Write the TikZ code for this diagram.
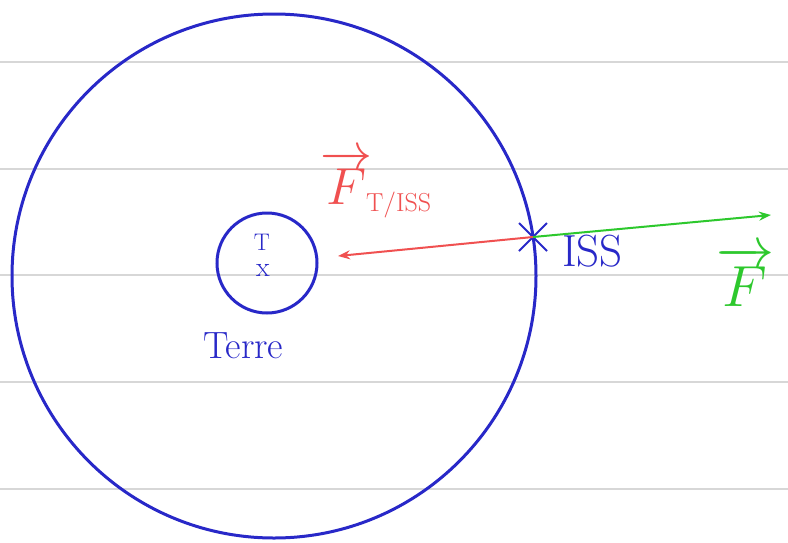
\RequirePackage{fix-cm}
\documentclass[tikz,border=0pt]{standalone}
\usetikzlibrary{arrows.meta}
\definecolor{inkblue}{RGB}{40,40,200}
\definecolor{inkred}{RGB}{240,80,80}
\definecolor{inkgreen}{RGB}{45,200,45}
\definecolor{rulegray}{RGB}{215,215,215}
\tikzset{
  ruleline/.style={rulegray, line width=2.5pt},
  orbit/.style={circle, draw=inkblue, line width=3pt, inner sep=0pt},
  bluetext/.style={text=inkblue, inner sep=0pt},
  forcered/.style={draw=inkred, line width=2pt, -{Stealth[length=12pt,width=9pt]}},
  forcegreen/.style={draw=inkgreen, line width=2pt, -{Stealth[length=12pt,width=9pt]}},
}
\begin{document}
\begin{tikzpicture}[x=1pt,y=-1pt]
\useasboundingbox (0,0) rectangle (788,542);
\fill[white] (0,0) rectangle (788,542);
\foreach \yy in {62,169,275,382,489} \draw[ruleline] (0,\yy) -- (788,\yy);
% circles
\node[orbit, minimum size=524pt] (orbitc) at (274,276) {};
\node[orbit, minimum size=100pt] (terre) at (267,263) {};
\node[bluetext, font=\fontsize{24}{26}\selectfont] (tlabel) at (262,242) {T};
\node[bluetext, font=\fontsize{28}{30}\selectfont] (xlabel) at (263,270) {x};
\node[bluetext, font=\fontsize{38}{40}\selectfont, anchor=base west] (terrelabel) at (203,358) {Terre};
% ISS
\coordinate (iss) at (533,237);
\draw[inkblue, line width=2pt] (519,223) -- (547,251) (519,251) -- (547,223);
\node[bluetext, font=\fontsize{45}{48}\selectfont, anchor=base west] (isslabel) at (562,266) {ISS};
% forces
\coordinate (redend) at (338,256);
\coordinate (greenend) at (771,215);
\draw[forcered] (iss) -- (redend);
\draw[forcegreen] (iss) -- (greenend);
\node[text=inkred, inner sep=0pt, anchor=base west, font=\fontsize{52}{56}\selectfont] (ftiss) at (320,204) {$\overrightarrow{F}_{\!\scriptscriptstyle\mathrm{T/ISS}}$};
\node[text=inkgreen, inner sep=0pt, anchor=base west, font=\fontsize{58}{60}\selectfont] (fgreen) at (716,306) {$\overrightarrow{F}$};
\end{tikzpicture}
\end{document}
